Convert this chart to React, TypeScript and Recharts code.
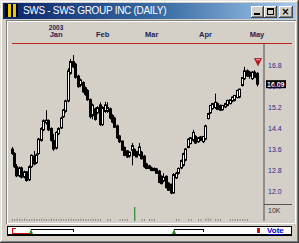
import React from 'react';
import { ComposedChart, Bar, XAxis, YAxis, ReferenceLine, ReferenceDot, Cell } from 'recharts';

const title = 'SWS - SWS GROUP INC (DAILY)';
const yearLabel = '2003';
const monthTicks = [18, 37, 57, 79, 100];
const monthLabels = ['Jan', 'Feb', 'Mar', 'Apr', 'May'];
const priceTicks = [12.0, 12.8, 13.6, 14.4, 15.2, 16.0, 16.8];
const lastPrice = 16.09;
const signalPrice = 16.93;
const volumeLabel = '10K';
const spikeIndex = 50;

const openP = [
  13.62, 13.45, 12.95, 12.6, 12.9, 12.55, 12.75, 12.45, 12.95, 13.35,
  13.1, 13.45, 13.95, 14.35, 14.62, 14.7, 14.4, 13.95, 13.65, 14.2,
  14.42, 14.85, 15.05, 15.45, 16.5, 16.95, 16.85, 16.4, 16.05, 16.15,
  15.95, 15.85, 15.5, 14.9, 15.15, 15.0, 15.3, 14.55, 15.05, 15.05,
  15.15, 14.9, 14.8, 14.5, 14.12, 13.92, 13.68, 13.55, 13.35, 13.58,
  13.6, 13.52, 13.4, 13.5, 13.35, 13.05, 12.98, 12.9, 12.88, 12.86,
  12.78, 12.58, 12.4, 12.58, 12.32, 12.28, 11.95, 12.52, 12.7, 12.9,
  13.0, 13.2, 13.68, 13.83, 13.95, 14.1, 13.9, 14.08, 13.9, 14.0,
  14.78, 15.0, 15.16, 15.2, 15.35, 15.28, 15.12, 15.22, 15.28, 15.35,
  15.45, 15.47, 15.58, 15.6, 16.04, 16.3, 16.6, 16.55, 16.3, 16.55,
  16.5,
];
const highP = [
  13.7, 13.5, 13.05, 12.95, 12.95, 12.8, 12.78, 13.0, 13.42, 13.55,
  13.45, 14.05, 14.45, 14.75, 15.1, 14.75, 14.45, 14.2, 14.3, 14.45,
  14.85, 15.15, 15.5, 16.7, 17.05, 17.2, 16.9, 16.45, 16.3, 16.2,
  16.0, 15.9, 15.55, 15.35, 15.2, 15.25, 15.4, 15.25, 15.42, 15.4,
  15.2, 14.95, 14.85, 14.55, 14.15, 13.95, 13.72, 13.58, 13.52, 13.85,
  13.65, 13.55, 13.85, 13.55, 13.4, 13.1, 13.02, 12.95, 12.92, 12.9,
  12.82, 12.62, 12.7, 12.62, 12.36, 12.3, 12.7, 12.75, 12.92, 13.22,
  13.48, 13.66, 14.02, 14.08, 14.35, 14.15, 14.08, 14.12, 14.12, 14.55,
  15.0, 15.3, 15.38, 15.73, 15.4, 15.32, 15.3, 15.38, 15.5, 15.52,
  15.62, 15.68, 15.88, 15.92, 16.36, 16.75, 16.65, 16.6, 16.58, 16.62,
  16.55,
];
const lowP = [
  13.4, 12.9, 12.55, 12.55, 12.5, 12.5, 12.38, 12.4, 12.9, 13.0,
  13.05, 13.4, 13.9, 14.3, 14.55, 14.3, 13.9, 13.55, 13.6, 14.15,
  14.38, 14.8, 15.0, 15.4, 16.45, 16.7, 16.3, 15.95, 15.98, 15.75,
  15.65, 15.45, 14.78, 14.75, 14.7, 14.95, 14.5, 14.5, 15.0, 15.0,
  14.75, 14.6, 14.42, 14.0, 13.85, 13.55, 13.35, 13.28, 13.3, 13.0,
  13.35, 13.3, 13.35, 13.22, 12.9, 12.85, 12.85, 12.78, 12.78, 12.68,
  12.32, 12.28, 12.35, 12.12, 12.02, 11.9, 11.92, 12.48, 12.65, 12.85,
  12.95, 13.15, 13.65, 13.8, 13.9, 13.82, 13.85, 13.92, 13.85, 13.95,
  14.75, 14.95, 15.12, 15.15, 15.1, 15.08, 15.08, 15.18, 15.25, 15.32,
  15.4, 15.43, 15.55, 15.55, 16.0, 16.25, 16.38, 16.3, 16.25, 16.33,
  16.0,
];
const closeP = [
  13.45, 12.95, 12.6, 12.9, 12.55, 12.75, 12.42, 12.95, 13.38, 13.05,
  13.4, 14.0, 14.4, 14.7, 14.72, 14.35, 13.95, 13.62, 14.25, 14.4,
  14.8, 15.1, 15.45, 16.6, 16.95, 16.75, 16.35, 16.0, 16.25, 15.8,
  15.7, 15.5, 14.85, 15.3, 14.75, 15.2, 14.55, 15.2, 15.3, 15.2,
  14.8, 14.65, 14.45, 14.05, 13.9, 13.58, 13.38, 13.32, 13.5, 13.75,
  13.38, 13.32, 13.7, 13.25, 12.95, 12.88, 12.88, 12.8, 12.8, 12.7,
  12.35, 12.3, 12.55, 12.15, 12.05, 11.95, 12.65, 12.7, 12.88, 13.18,
  13.45, 13.62, 14.0, 14.05, 14.25, 13.85, 14.05, 13.95, 14.1, 14.5,
  14.97, 15.28, 15.35, 15.4, 15.13, 15.1, 15.28, 15.35, 15.47, 15.5,
  15.6, 15.66, 15.85, 15.9, 16.34, 16.6, 16.4, 16.4, 16.55, 16.35,
  16.09,
];
const volumeK = [
  2.5, 2.5, 3, 2.5, 2.5, 3, 2.5, 2.5, 2.5, 3,
  2.5, 2.5, 3, 2.5, 2.5, 2.5, 3, 2.5, 2.5, 2.5,
  3, 2.5, 2.5, 2.5, 3, 2.5, 2.5, 2.5, 3, 2.5,
  2.5, 2.5, 2.5, 3, 2.5, 2.5, 2.5, 0, 0, 2.5,
  2.5, 0, 0, 0, 2.5, 2.5, 2.5, 2.5, 0, 0,
  16.5, 0, 0, 2.5, 2.5, 0, 2.5, 2.5, 2.5, 0,
  0, 0, 0, 0, 0, 0, 0, 2.5, 2.5, 0,
  0, 0, 2.5, 2.5, 0, 0, 2.5, 2.5, 0, 3,
  3, 3, 0, 2.5, 2.5, 2.5, 0, 0, 0, 2.5,
  2.5, 2.5, 2.5, 2.5, 2.5, 2.5, 2.5, 0, 0, 0,
  0,
];

const data = openP.map((o, i) => ({
  d: i,
  o,
  h: highP[i],
  l: lowP[i],
  c: closeP[i],
  range: [lowP[i], highP[i]],
  v: volumeK[i],
}));

const W = 299;
const H = 243;
const PLOT_LEFT = 10.775;
const AXIS_W = 35;
const PAD_RIGHT = 5.775;
const PLOT_TOP = 44;
const PLOT_BOTTOM_MARGIN = 22;
const PRICE_DOMAIN: [number, number] = [10.88, 17.62];
const VOL_DOMAIN: [number, number] = [0, 20];
const FONT = '"Liberation Sans", Arial, sans-serif';

const Candle = (props: any) => {
  const { x, y, width, height, payload } = props;
  if (x == null || payload == null) return null;
  const cx = Math.floor(x + width / 2);
  const top = Math.min(y, y + height);
  const h = Math.abs(height);
  const span = payload.h - payload.l || 1;
  const py = (p: number) => top + ((payload.h - p) / span) * h;
  const yo = py(payload.o);
  const yc = py(payload.c);
  const up = payload.c >= payload.o;
  const bt = Math.min(yo, yc);
  const bb = Math.max(yo, yc);
  return (
    <g>
      <line x1={cx + 0.5} x2={cx + 0.5} y1={top} y2={top + h} stroke="#000" strokeWidth={1} />
      <rect
        x={cx - 0.5}
        y={bt}
        width={2}
        height={Math.max(bb - bt, 1)}
        fill={up ? '#fff' : '#000'}
        stroke="#000"
        strokeWidth={1}
      />
    </g>
  );
};

const MonthTick = (props: any) => {
  const { x, payload } = props;
  const idx = monthTicks.indexOf(payload.value);
  return (
    <g fontFamily={FONT} fontWeight="bold" fill="#1f1f55">
      {idx === 0 && (
        <text x={x} y={29.5} textAnchor="middle" fontSize={6.5}>
          {yearLabel}
        </text>
      )}
      <text x={x} y={37} textAnchor="middle" fontSize={7.5}>
        {monthLabels[idx]}
      </text>
    </g>
  );
};

const LastPriceLabel = (props: any) => {
  const { viewBox } = props;
  if (!viewBox) return null;
  const lx = viewBox.x + viewBox.width + 2;
  const ly = viewBox.y;
  return (
    <g>
      <rect x={lx} y={ly - 4} width={20} height={8} fill="#000" />
      <text x={lx + 1} y={ly + 2.7} fontSize={7} fontWeight="bold" fill="#fff" fontFamily={FONT}>
        {lastPrice.toFixed(2)}
      </text>
    </g>
  );
};

const SignalShape = (props: any) => {
  const { cx, cy } = props;
  if (cx == null) return null;
  const x = Math.floor(cx) + 1;
  return (
    <g>
      <polygon points={`${x - 3.5},${cy - 3.5} ${x + 3.5},${cy - 3.5} ${x},${cy + 3.5}`} fill="#c8101a" stroke="#8a0008" strokeWidth={0.6} />
      <rect x={x - 2} y={cy - 3} width={4} height={1.2} fill="#f0a0a0" />
    </g>
  );
};

const abs = (left: number, top: number, width: number, height: number, extra: React.CSSProperties = {}): React.CSSProperties => ({
  position: 'absolute',
  left,
  top,
  width,
  height,
  ...extra,
});

export default function App() {
  return (
    <div
      style={{
        position: 'fixed',
        left: 0,
        top: 0,
        width: W,
        height: H,
        background: '#d4d0c8',
        overflow: 'hidden',
        fontFamily: FONT,
        boxShadow: 'inset -1px -1px #404040, inset 1px 1px #e8e6e0, inset -2px -2px #808080, inset 2px 2px #fff',
      }}
    >
      {/* title bar */}
      <div style={abs(3, 3, 293, 16, { background: 'linear-gradient(to right, #0a246a, #3a6ea5 55%, #a6caf0)' })} />
      <div style={abs(5, 4, 13, 13, { background: 'linear-gradient(to right, #000 0 3px, #e8c800 3px 6px, #000 6px 8px, #e8c800 8px 11px, #000 11px 13px)' })} />
      <div
        style={abs(23, 3, 200, 16, {
          color: '#fff',
          fontSize: 10,
          letterSpacing: -0.3,
          lineHeight: '16px',
          whiteSpace: 'nowrap',
        })}
      >
        {title}
      </div>
      {[251, 264, 279].map((bx, k) => (
        <div
          key={k}
          style={abs(bx, 6, k === 2 ? 14 : 13, 12, {
            background: '#d4d0c8',
            boxShadow: 'inset -1px -1px #404040, inset 1px 1px #fff, inset -2px -2px #808080',
          })}
        >
          {k === 0 && <div style={abs(3, 7, 6, 2, { background: '#000' })} />}
          {k === 1 && (
            <div style={abs(3, 2, 7, 7, { boxSizing: 'border-box', border: '1px solid #000', borderTopWidth: 2 })} />
          )}
          {k === 2 && (
            <div style={abs(0, 0, 13, 11, { fontSize: 10, fontWeight: 'bold', lineHeight: '11px', textAlign: 'center', fontFamily: '"DejaVu Sans", sans-serif' })}>
              ×
            </div>
          )}
        </div>
      ))}

      {/* chart panel */}
      <div style={abs(6, 20, 290, 204, { boxShadow: 'inset 1px 1px #808080, inset 2px 2px #fff, inset -1px -1px #fff' })} />
      <div style={abs(12, 43, 280, 1, { background: '#c02020' })} />
      <div style={abs(264, 204, 28, 1, { background: '#555' })} />
      <div style={abs(268, 207, 20, 8, { fontSize: 7, lineHeight: '8px', color: '#333' })}>{volumeLabel}</div>

      {/* scrollbar */}
      <div style={abs(7, 226, 285, 10, { background: '#fff', boxSizing: 'border-box', border: '1px solid #000', borderBottomWidth: 2 })} />
      <div style={abs(12, 228, 1, 6, { background: '#d01010' })} />
      <div style={abs(12, 228, 4, 1, { background: '#d01010' })} />
      <div style={abs(12, 233, 18, 1, { background: '#d01010' })} />
      <div style={abs(29, 229, 0, 0, { borderLeft: '2.5px solid transparent', borderRight: '2.5px solid transparent', borderBottom: '5px solid #1a8a1a' })} />
      <div style={abs(31, 229, 42, 1, { background: '#000' })} />
      <div style={abs(73, 229, 1, 3, { background: '#000' })} />
      <div style={abs(172, 229, 0, 0, { borderLeft: '2.5px solid transparent', borderRight: '2.5px solid transparent', borderBottom: '5px solid #1a8a1a' })} />
      <div style={abs(174, 229, 29, 1, { background: '#000' })} />
      <div style={abs(203, 229, 1, 3, { background: '#000' })} />
      <div style={abs(257, 228, 3, 5, { background: '#d01010' })} />
      <div style={abs(267, 226, 24, 9, { fontSize: 8, fontWeight: 'bold', color: '#0000c0', textDecoration: 'underline', lineHeight: '9px' })}>
        Vote
      </div>

      {/* volume chart */}
      <div style={abs(0, 0, W, H)}>
        <ComposedChart
          width={W}
          height={H}
          data={data}
          margin={{ top: 204, right: AXIS_W, bottom: PLOT_BOTTOM_MARGIN, left: PLOT_LEFT }}
        >
          <XAxis dataKey="d" type="category" hide padding={{ left: 0, right: PAD_RIGHT }} />
          <YAxis hide domain={VOL_DOMAIN} allowDataOverflow />
          <Bar dataKey="v" barSize={1} isAnimationActive={false}>
            {data.map((e, i) => (
              <Cell key={i} fill={i === spikeIndex ? '#0b7a12' : '#8a8a8a'} />
            ))}
          </Bar>
        </ComposedChart>
      </div>

      {/* price chart */}
      <div style={abs(0, 0, W, H)}>
        <ComposedChart width={W} height={H} data={data} margin={{ top: 0, right: 0, bottom: PLOT_BOTTOM_MARGIN, left: PLOT_LEFT }}>
          <XAxis
            dataKey="d"
            type="category"
            orientation="top"
            height={PLOT_TOP}
            ticks={monthTicks}
            interval={0}
            tick={<MonthTick />}
            axisLine={false}
            tickLine={false}
            padding={{ left: 0, right: PAD_RIGHT }}
          />
          <YAxis
            orientation="right"
            width={AXIS_W}
            domain={PRICE_DOMAIN}
            allowDataOverflow
            ticks={priceTicks}
            interval={0}
            tickFormatter={(v: number) => v.toFixed(1)}
            tick={{ fontSize: 7, fill: '#28288e', fontFamily: FONT }}
            tickLine={false}
            tickSize={2}
            tickMargin={2}
            axisLine={{ stroke: '#4a4a4a' }}
          />
          <Bar dataKey="range" shape={<Candle />} isAnimationActive={false} />
          <ReferenceLine y={lastPrice} stroke="none" label={<LastPriceLabel />} />
          <ReferenceDot x={data.length - 1} y={signalPrice} shape={<SignalShape />} />
        </ComposedChart>
      </div>
    </div>
  );
}
